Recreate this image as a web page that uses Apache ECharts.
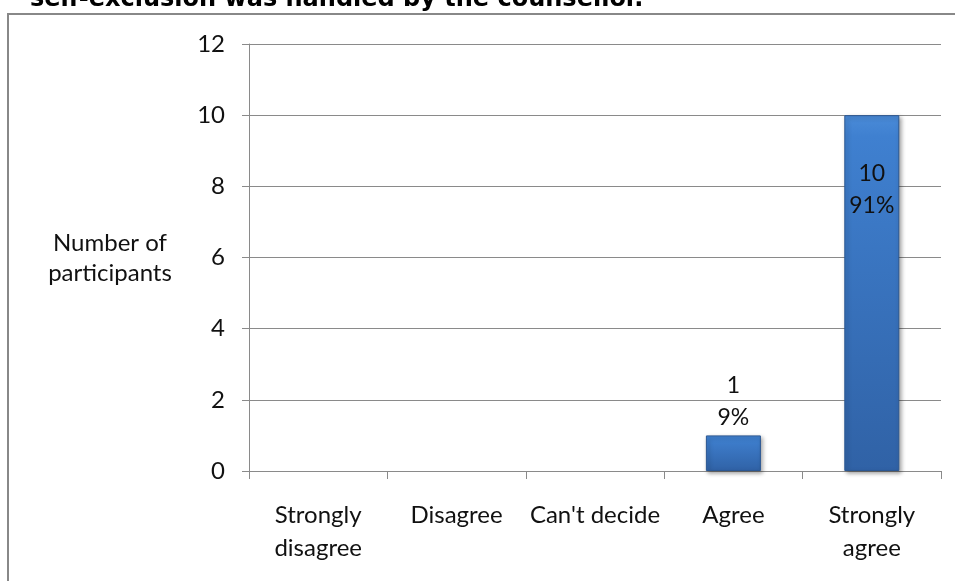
<!DOCTYPE html>
<html>
<head>
<meta charset="utf-8">
<script src="https://cdn.jsdelivr.net/npm/echarts@6/dist/echarts.min.js"></script>
<style>
  html, body { margin: 0; padding: 0; background: #ffffff; }
  #chart { width: 955px; height: 581px; }
</style>
</head>
<body>
<div id="chart"></div>
<script>
// Survey responses: how many participants chose each answer
const headline = 'self-exclusion was handled by the counsellor.';
const categories = ['Strongly\ndisagree', 'Disagree', "Can't decide", 'Agree', 'Strongly\nagree'];
const participants = [0, 0, 0, 1, 10];
const shares = ['0%', '0%', '0%', '9%', '91%'];
const yMin = 0;
const yMax = 12;
const yStep = 2;
const yTitle = 'Number of\nparticipants';

const FONT = 'Lato, "Open Sans", sans-serif';
const GRID_GRAY = '#8a8a8a';
const peak = Math.max.apply(null, participants);

const chart = echarts.init(document.getElementById('chart'), null, { renderer: 'canvas' });

// Empty answers get no outline or shadow so nothing shows on the baseline
const barData = participants.map(function (v) {
  const inside = v === peak;
  const item = {
    value: v,
    label: {
      show: v > 0,
      position: inside ? 'insideTop' : 'top',
      distance: inside ? 42 : 2
    }
  };
  if (v === 0) {
    item.itemStyle = { borderWidth: 0, shadowBlur: 0, shadowOffsetX: 0, shadowOffsetY: 0, opacity: 0 };
  }
  return item;
});

chart.setOption({
  animation: false,
  backgroundColor: '#ffffff',
  graphic: [
    {
      type: 'rect',
      silent: true,
      shape: { x: 8, y: 14, width: 1000, height: 620 },
      style: { fill: 'none', stroke: '#888888', lineWidth: 2 }
    },
    {
      type: 'text',
      silent: true,
      left: 30,
      top: -12,
      style: {
        text: headline,
        font: 'bold 24px "DejaVu Sans", Verdana, sans-serif',
        fill: '#000000'
      }
    },
    {
      type: 'text',
      silent: true,
      x: 110,
      y: 258,
      style: {
        text: yTitle,
        fontFamily: FONT,
        fontSize: 24,
        lineHeight: 30,
        align: 'center',
        verticalAlign: 'middle',
        fill: '#111111'
      }
    }
  ],
  grid: { left: 249, top: 44, right: 14, bottom: 110, containLabel: false },
  xAxis: {
    type: 'category',
    data: categories,
    axisLine: { show: true, lineStyle: { color: GRID_GRAY, width: 1 } },
    axisTick: { show: true, alignWithLabel: false, length: 8, lineStyle: { color: GRID_GRAY } },
    axisLabel: {
      interval: 0,
      margin: 28,
      fontFamily: FONT,
      fontSize: 24,
      lineHeight: 33,
      color: '#111111'
    },
    splitLine: { show: false }
  },
  yAxis: {
    type: 'value',
    min: yMin,
    max: yMax,
    interval: yStep,
    axisLine: { show: true, lineStyle: { color: GRID_GRAY, width: 1 } },
    axisTick: { show: true, inside: false, length: 7, lineStyle: { color: GRID_GRAY } },
    axisLabel: {
      margin: 24,
      fontFamily: FONT,
      fontSize: 24,
      color: '#111111'
    },
    splitLine: { show: true, lineStyle: { color: GRID_GRAY, width: 1 } }
  },
  series: [
    {
      type: 'bar',
      data: barData,
      barWidth: 55,
      itemStyle: {
        color: {
          type: 'linear', x: 0, y: 0, x2: 0, y2: 1,
          colorStops: [
            { offset: 0, color: '#4a8bd8' },
            { offset: 0.06, color: '#3f80d0' },
            { offset: 1, color: '#3062a6' }
          ]
        },
        borderColor: '#2b5792',
        borderWidth: 1,
        shadowColor: 'rgba(0,0,0,0.35)',
        shadowBlur: 4,
        shadowOffsetX: 2,
        shadowOffsetY: 2
      },
      label: {
        formatter: function (p) {
          return participants[p.dataIndex] + '\n' + shares[p.dataIndex];
        },
        fontFamily: FONT,
        fontSize: 23,
        lineHeight: 32,
        color: '#111111',
        align: 'center'
      }
    }
  ]
});
</script>
</body>
</html>
